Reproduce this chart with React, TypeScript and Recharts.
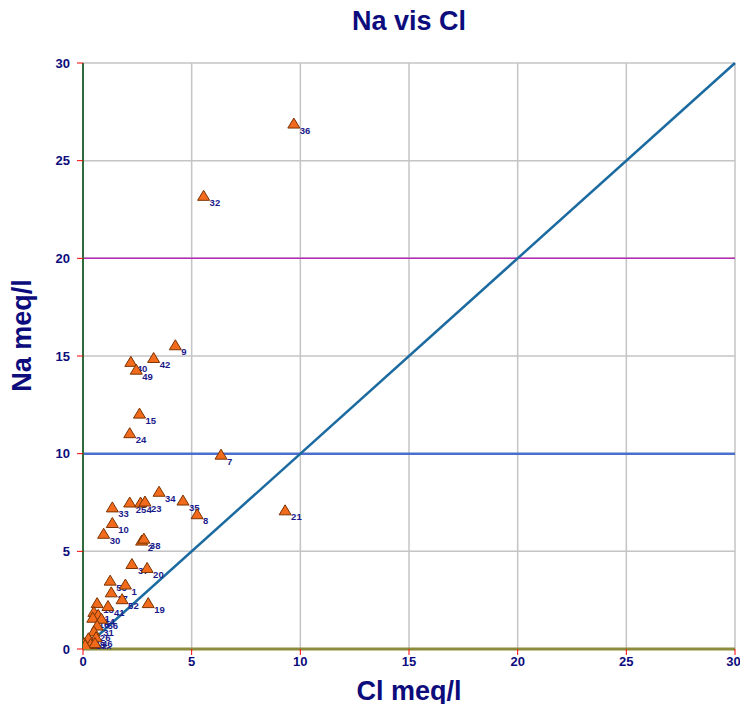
import { ScatterChart, Scatter, XAxis, YAxis, CartesianGrid, ReferenceLine } from 'recharts';

// sample ids, Cl (meq/l) and Na (meq/l)
const sampleIds = [
    '36', '32', '9', '42', '40', '49', '15', '24', '7', '34', '35', '8', '21', '33', '25', '4', '23',
    '10', '30', '2', '38', '37', '20', '53', '1', '17', '52', '19', '13', '41', '11', '14', '16', '56',
    '31', '26', '46', '27', '48', '6', '3', '39', '5',
];
const clValues = [
    9.7, 5.55, 4.25, 3.25, 2.2, 2.45, 2.6, 2.15, 6.35, 3.5, 4.6, 5.25, 9.3, 1.35, 2.15, 2.65, 2.85,
    1.35, 0.95, 2.7, 2.8, 2.25, 2.95, 1.25, 1.95, 1.3, 1.8, 3.0, 0.65, 1.15, 0.5, 0.7, 0.45, 0.85,
    0.65, 0.5, 0.6, 0.3, 0.25, 0.05, 0.35, 0.55, 0.1,
];
const naValues = [
    26.9, 23.2, 15.55, 14.9, 14.7, 14.3, 12.05, 11.05, 9.95, 8.05, 7.6, 6.9, 7.1, 7.25, 7.5, 7.5, 7.55,
    6.45, 5.9, 5.55, 5.65, 4.35, 4.15, 3.5, 3.3, 2.9, 2.55, 2.35, 2.35, 2.2, 1.9, 1.75, 1.6, 1.55,
    1.2, 0.9, 0.6, 0.45, 0.55, 0.3, 0.25, 0.3, 0.2,
];
const axisTicks = [0, 5, 10, 15, 20, 25, 30];

const points = sampleIds.map((name, i) => ({ name, x: clValues[i], y: naValues[i] }));

const NAVY = '#0c0c7c';

const Triangle = (props: any) => {
    const { cx, cy, payload } = props;
    if (cx == null || cy == null) return null;
    return (
        <g>
            <polygon
                points={`${cx},${cy - 5.5} ${cx - 6},${cy + 4.5} ${cx + 6},${cy + 4.5}`}
                fill="#f26b1d"
                stroke="#7a3300"
                strokeWidth={1}
            />
            <text x={cx + 6} y={cy + 10} fontSize={9.5} fontWeight="bold" fill="#1a1a8c">
                {payload.name}
            </text>
        </g>
    );
};

const App = () => {
    return (
        <div
            style={{
                position: 'absolute',
                left: 0,
                top: 0,
                width: 740,
                height: 704,
                background: '#fff',
                fontFamily: '"Liberation Sans", Arial, sans-serif',
            }}
        >
            <div
                style={{
                    position: 'absolute',
                    left: 209,
                    width: 400,
                    top: 8,
                    textAlign: 'center',
                    fontSize: 27,
                    lineHeight: '27px',
                    fontWeight: 'bold',
                    color: NAVY,
                }}
            >
                Na vis Cl
            </div>
            <ScatterChart width={740} height={704} margin={{ top: 63, right: 5, bottom: 0, left: 0 }}>
                <CartesianGrid stroke="#c4c4c4" strokeWidth={1.5} />
                <XAxis
                    type="number"
                    dataKey="x"
                    domain={[0, 30]}
                    ticks={axisTicks}
                    height={55}
                    axisLine={{ stroke: '#8c8c3c', strokeWidth: 3 }}
                    tickLine={{ stroke: '#ff0000' }}
                    tickSize={6}
                    tickMargin={2}
                    tick={{ fill: NAVY, fontSize: 13, fontWeight: 'bold' }}
                    allowDataOverflow
                />
                <YAxis
                    type="number"
                    dataKey="y"
                    domain={[0, 30]}
                    ticks={axisTicks}
                    width={83}
                    axisLine={{ stroke: '#2f6b3c', strokeWidth: 2 }}
                    tickLine={{ stroke: '#ff0000' }}
                    tickSize={6}
                    tickMargin={7}
                    tick={{ fill: NAVY, fontSize: 13, fontWeight: 'bold' }}
                    allowDataOverflow
                />
                <ReferenceLine y={20} stroke="#b42cb4" strokeWidth={1.5} />
                <ReferenceLine y={10} stroke="#4a70cc" strokeWidth={2.5} />
                <ReferenceLine
                    segment={[{ x: 0, y: 0 }, { x: 30, y: 30 }]}
                    stroke="#1b6aa0"
                    strokeWidth={2.5}
                />
                <Scatter data={points} shape={Triangle} isAnimationActive={false} />
            </ScatterChart>
            <div
                style={{
                    position: 'absolute',
                    left: 209,
                    width: 400,
                    top: 678,
                    textAlign: 'center',
                    fontSize: 27,
                    lineHeight: '27px',
                    fontWeight: 'bold',
                    color: NAVY,
                }}
            >
                Cl meq/l
            </div>
            <div
                style={{
                    position: 'absolute',
                    left: -78,
                    width: 200,
                    top: 322,
                    textAlign: 'center',
                    fontSize: 27,
                    lineHeight: '27px',
                    fontWeight: 'bold',
                    color: NAVY,
                    transform: 'rotate(-90deg)',
                }}
            >
                Na meq/l
            </div>
        </div>
    );
};

export default App;
